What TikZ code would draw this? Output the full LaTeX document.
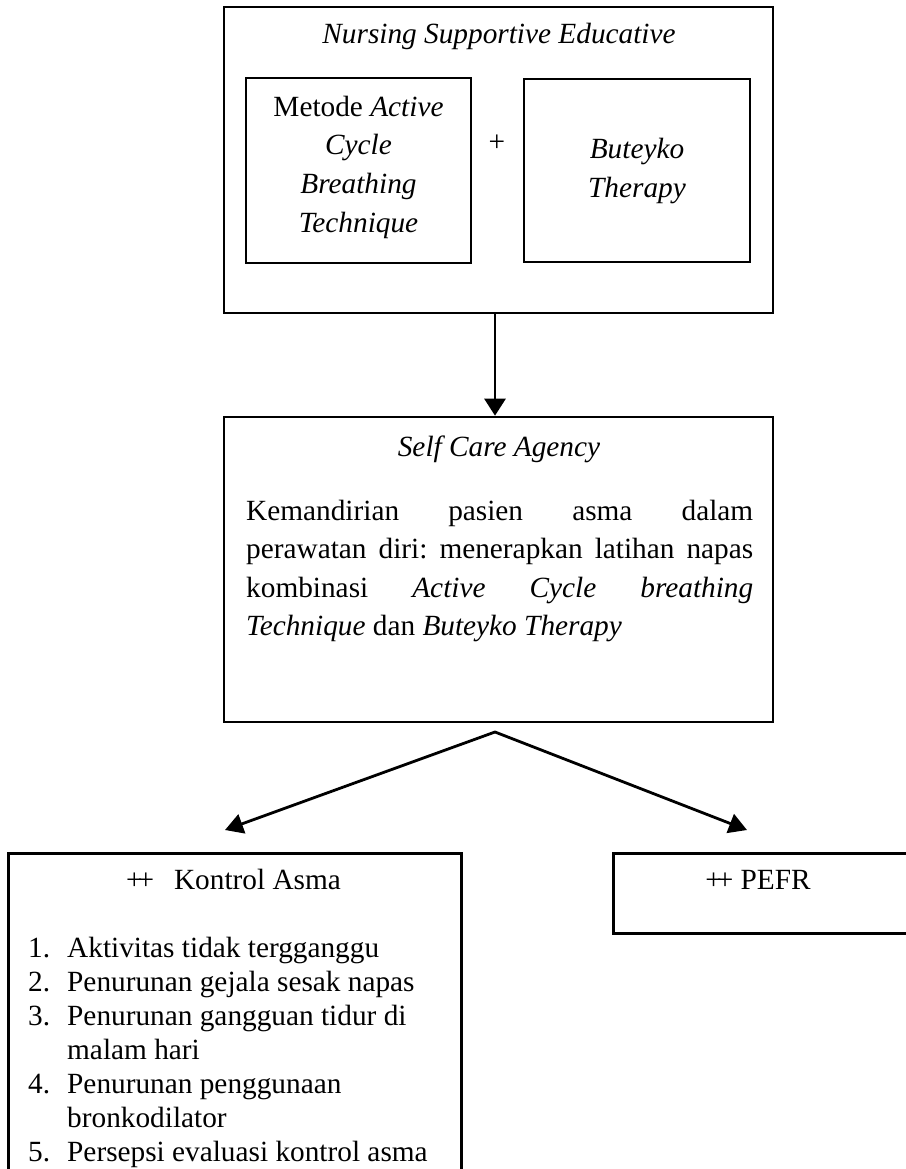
\documentclass[tikz,border=0pt]{standalone}
\usepackage{fontspec}
\setmainfont{Liberation Serif}
\usetikzlibrary{arrows.meta}
\frenchspacing
\tikzset{
  box/.style={draw, line width=2.6pt, rectangle, inner sep=0pt},
  txt/.style={inner sep=0pt, font=\fontsize{29.3}{38}\selectfont},
  arr/.style={line width=2.8pt, -{Triangle[width=21pt,length=17pt]}},
  biarr/.style={line width=2.8pt, line join=miter, {Triangle[width=20pt,length=18pt]}-{Triangle[width=20pt,length=18pt]}},
}
\newcommand{\pp}{+\kern-0.17em+}
\begin{document}
\begin{tikzpicture}[x=1pt,y=-1pt]
\useasboundingbox (0,0) rectangle (905,1169);

% top box
\node[box, minimum width=549pt, minimum height=306pt] (top) at (498.5,160) {};
\node[txt, anchor=base] (tTitle) at (499,44) {\textit{Nursing Supportive Educative}};
\node[box, minimum width=225pt, minimum height=185pt] (acbt) at (358.5,170.5) {};
\node[box, minimum width=226pt, minimum height=183pt] (bt) at (637,170.5) {};
\node[txt, anchor=base] (a1) at (358.5,117) {Metode \textit{Active}};
\node[txt, anchor=base] (a2) at (358.5,155) {\textit{Cycle}};
\node[txt, anchor=base] (a3) at (358.5,193.5) {\textit{Breathing}};
\node[txt, anchor=base] (a4) at (358.5,232) {\textit{Technique}};
\node[txt] (plus) at (497,143) {+};
\node[txt, anchor=base] (b1) at (637,159) {\textit{Buteyko}};
\node[txt, anchor=base] (b2) at (637,197.5) {\textit{Therapy}};

% middle box
\node[box, minimum width=549pt, minimum height=305pt] (mid) at (498.5,569.5) {};
\node[txt, anchor=base] (mTitle) at (499,456) {\textit{Self Care Agency}};
\node[txt, anchor=base west] (p1) at (246,520) {\makebox[507pt][s]{Kemandirian pasien asma dalam}};
\node[txt, anchor=base west] (p2) at (246,558) {\makebox[507pt][s]{perawatan diri: menerapkan latihan napas}};
\node[txt, anchor=base west] (p3) at (246,597) {\makebox[507pt][s]{kombinasi \textit{Active} \textit{Cycle} \textit{breathing}}};
\node[txt, anchor=base west] (p4) at (246,635) {\textit{Technique} dan \textit{Buteyko Therapy}};

% connectors
\coordinate (split) at (495,732);
\coordinate (tipL) at (225,830);
\coordinate (tipR) at (747,830);
\draw[arr] (top.south -| split) -- (mid.north -| split);
\draw[biarr] (tipL) -- (split) -- (tipR);

% bottom boxes
\node[box, minimum width=453pt, minimum height=360pt, anchor=north west] (kon) at (7,852) {};
\node[box, minimum width=296pt, minimum height=80pt, anchor=north west] (pefr) at (612,852) {};
\node[txt, anchor=base] (kTitle) at (233.5,889) {\pp\hspace{0.68em}Kontrol Asma};
\node[txt, anchor=base] (pTitle) at (758,889) {\pp\ PEFR};

\node[txt, anchor=base west] (n1) at (28,957) {1.};
\node[txt, anchor=base west] (i1) at (67,957) {Aktivitas tidak tergganggu};
\node[txt, anchor=base west] (n2) at (28,991) {2.};
\node[txt, anchor=base west] (i2) at (67,991) {Penurunan gejala sesak napas};
\node[txt, anchor=base west] (n3) at (28,1025) {3.};
\node[txt, anchor=base west] (i3) at (67,1025) {Penurunan gangguan tidur di};
\node[txt, anchor=base west] (i3b) at (67,1059) {malam hari};
\node[txt, anchor=base west] (n4) at (28,1093) {4.};
\node[txt, anchor=base west] (i4) at (67,1093) {Penurunan penggunaan};
\node[txt, anchor=base west] (i4b) at (67,1127) {bronkodilator};
\node[txt, anchor=base west] (n5) at (28,1161) {5.};
\node[txt, anchor=base west] (i5) at (67,1161) {Persepsi evaluasi kontrol asma};
\end{tikzpicture}
\end{document}
